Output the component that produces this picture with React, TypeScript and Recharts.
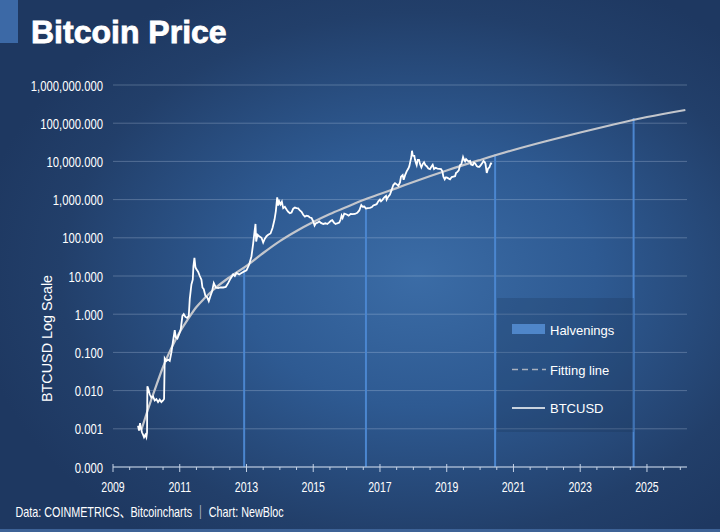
import { LineChart, Line, XAxis, YAxis, CartesianGrid, ReferenceLine } from "recharts";

const FONT = "'Liberation Sans', Arial, Helvetica, sans-serif";

// BTCUSD daily close, thinned: [year, price]
const btcPrice: [number, number][] = [
  [2009.75, 0.0012], [2009.78, 0.0009], [2009.81, 0.0014], [2009.84, 0.001], [2009.87, 0.0008],
  [2009.9, 0.0007], [2009.93, 0.0006], [2009.97, 0.0007], [2010.0, 0.0006], [2010.02, 0.0008],
  [2010.03, 0.013], [2010.06, 0.011], [2010.1, 0.008], [2010.15, 0.0065], [2010.2, 0.007],
  [2010.25, 0.0055], [2010.3, 0.006], [2010.35, 0.005], [2010.4, 0.0058], [2010.45, 0.005],
  [2010.5, 0.0055], [2010.53, 0.006], [2010.55, 0.07], [2010.6, 0.06], [2010.65, 0.065],
  [2010.7, 0.06], [2010.75, 0.1], [2010.8, 0.2], [2010.85, 0.38], [2010.88, 0.25],
  [2010.93, 0.23], [2010.98, 0.3], [2011.03, 0.4], [2011.08, 0.9], [2011.12, 1.0],
  [2011.17, 0.85], [2011.22, 0.8], [2011.27, 0.9], [2011.3, 2.5], [2011.35, 6],
  [2011.39, 8], [2011.41, 18], [2011.44, 30], [2011.47, 17], [2011.5, 15],
  [2011.55, 13], [2011.6, 10], [2011.65, 8], [2011.68, 5], [2011.72, 4.5],
  [2011.77, 3], [2011.82, 2.8], [2011.87, 2.2], [2011.92, 3], [2011.97, 4],
  [2012.02, 6.5], [2012.08, 5], [2012.15, 4.8], [2012.22, 5], [2012.3, 5],
  [2012.38, 5.2], [2012.45, 6.5], [2012.52, 8.5], [2012.6, 11], [2012.65, 10],
  [2012.7, 12], [2012.78, 11], [2012.85, 12], [2012.92, 13], [2013.0, 14],
  [2013.08, 20], [2013.15, 33], [2013.2, 70], [2013.24, 140], [2013.27, 230],
  [2013.29, 80], [2013.33, 120], [2013.38, 110], [2013.45, 100], [2013.5, 75],
  [2013.55, 95], [2013.6, 110], [2013.65, 120], [2013.72, 130], [2013.78, 180],
  [2013.84, 300], [2013.88, 500], [2013.92, 1150], [2013.95, 700], [2013.98, 900],
  [2014.02, 750], [2014.06, 880], [2014.1, 600], [2014.15, 650], [2014.2, 550],
  [2014.25, 480], [2014.3, 440], [2014.35, 460], [2014.4, 580], [2014.45, 620],
  [2014.5, 600], [2014.55, 590], [2014.6, 520], [2014.65, 480], [2014.7, 400],
  [2014.75, 360], [2014.8, 380], [2014.85, 370], [2014.9, 340], [2014.95, 330],
  [2015.0, 270], [2015.04, 210], [2015.08, 240], [2015.13, 250], [2015.18, 270],
  [2015.23, 245], [2015.3, 230], [2015.37, 240], [2015.42, 230], [2015.47, 250],
  [2015.53, 280], [2015.57, 290], [2015.62, 250], [2015.67, 230], [2015.72, 240],
  [2015.78, 250], [2015.82, 300], [2015.85, 380], [2015.88, 330], [2015.93, 430],
  [2015.97, 420], [2016.02, 400], [2016.06, 380], [2016.12, 420], [2016.18, 415],
  [2016.25, 420], [2016.32, 450], [2016.38, 520], [2016.44, 720], [2016.48, 650],
  [2016.53, 660], [2016.58, 580], [2016.63, 600], [2016.7, 610], [2016.76, 640],
  [2016.8, 700], [2016.85, 730], [2016.9, 760], [2016.95, 900], [2017.0, 1000],
  [2017.03, 900], [2017.08, 1000], [2017.13, 1150], [2017.18, 1250], [2017.2, 1000],
  [2017.25, 1200], [2017.3, 1350], [2017.35, 1800], [2017.4, 2400], [2017.45, 2700],
  [2017.5, 2500], [2017.55, 2300], [2017.6, 2800], [2017.63, 4000], [2017.68, 4400],
  [2017.71, 3300], [2017.75, 4300], [2017.8, 5500], [2017.85, 6500], [2017.88, 7500],
  [2017.91, 10000], [2017.94, 13000], [2017.96, 19000], [2017.98, 14500], [2018.0, 14000],
  [2018.03, 14000], [2018.05, 11000], [2018.08, 9000], [2018.1, 8000], [2018.13, 11000],
  [2018.17, 11000], [2018.2, 8500], [2018.24, 7000], [2018.28, 8500], [2018.32, 9500],
  [2018.36, 8000], [2018.4, 7500], [2018.45, 6500], [2018.5, 6300], [2018.55, 7500],
  [2018.58, 8200], [2018.62, 6300], [2018.67, 6800], [2018.72, 6500], [2018.78, 6400],
  [2018.83, 6300], [2018.87, 5500], [2018.9, 4000], [2018.94, 3400], [2018.97, 3800],
  [2019.0, 3800], [2019.05, 3600], [2019.1, 3400], [2019.15, 3900], [2019.2, 4000],
  [2019.25, 4100], [2019.28, 5000], [2019.32, 5300], [2019.36, 5800], [2019.4, 8000],
  [2019.44, 8500], [2019.47, 11000], [2019.49, 13000], [2019.52, 11000], [2019.55, 10000],
  [2019.58, 11500], [2019.62, 10500], [2019.66, 10000], [2019.7, 10300], [2019.73, 8300],
  [2019.78, 8000], [2019.82, 9300], [2019.86, 8600], [2019.9, 7500], [2019.94, 7200],
  [2019.98, 7200], [2020.02, 8000], [2020.06, 9000], [2020.1, 10200], [2020.13, 9800],
  [2020.16, 8800], [2020.2, 5000], [2020.24, 6500], [2020.28, 7000], [2020.32, 8800],
  [2020.36, 8700],
];

// power-law fit
const fittingLine: [number, number][] = [
  [2009.85, 0.00093], [2010.0, 0.0024], [2010.25, 0.0104], [2010.5, 0.0415], [2010.75, 0.13],
  [2011.0, 0.34], [2011.25, 0.75], [2011.5, 1.54], [2011.75, 2.65], [2012.0, 4.3],
  [2012.5, 9.4], [2013.0, 18.3], [2013.5, 40], [2014.0, 82], [2014.5, 151],
  [2015.0, 259], [2015.5, 420], [2016.0, 640], [2016.5, 980], [2017.0, 1400],
  [2017.5, 2000], [2018.0, 2900], [2019.0, 5800], [2020.0, 10900], [2021.0, 19900],
  [2022.0, 34200], [2023.0, 57100], [2024.0, 92500], [2025.0, 145000], [2026.15, 222000],
];

const halvingYears = [2012.93, 2016.58, 2020.45, 2024.6];
const halvingTops = [16, 535, 15500, 137000];

const yTicks = [0.0001, 0.001, 0.01, 0.1, 1, 10, 100, 1000, 10000, 100000, 1000000];
const yearLabels = [2009, 2011, 2013, 2015, 2017, 2019, 2021, 2023, 2025];
const xTicks = Array.from({ length: 35 }, (_, i) => 2009 + i / 2);

const rows = [
  ...btcPrice.map(([t, v]) => ({ t, btc: v })),
  ...fittingLine.map(([t, v]) => ({ t, fit: v })),
].sort((a, b) => a.t - b.t);

const fmt = (v: number) =>
  v.toLocaleString("en-US", { minimumFractionDigits: 3, maximumFractionDigits: 3 });

function XTick({ x, y, payload }: any) {
  const v = payload.value;
  const major = yearLabels.includes(v);
  return (
    <g>
      <line x1={x} x2={x} y1={major ? y - 3 : y} y2={major ? y + 5 : y + 3} stroke="#c6d3e6" />
      {major && (
        <text
          transform={`translate(${x},${y + 25}) scale(0.68,1)`}
          textAnchor="middle"
          fill="#fff"
          fontSize={15.5}
          fontFamily={FONT}
        >
          {v}
        </text>
      )}
    </g>
  );
}

function YTick({ x, y, payload }: any) {
  return (
    <text
      transform={`translate(${x},${y + 5.5}) scale(0.73,1)`}
      textAnchor="end"
      fill="#fff"
      fontSize={15.5}
      fontFamily={FONT}
    >
      {fmt(payload.value)}
    </text>
  );
}

export default function App() {
  return (
    <div
      style={{
        position: "absolute",
        left: 0,
        top: 0,
        width: 720,
        height: 532,
        overflow: "hidden",
        background:
          "radial-gradient(ellipse 62% 62% at 58% 52%, #3b6ca6 0%, #2e5a92 40%, #223f6a 80%, #1e3861 100%)",
        borderBottom: "3px solid #3d6296",
        boxSizing: "border-box",
      }}
    >
      <LineChart
        width={720}
        height={532}
        data={rows}
        margin={{ top: 85, right: 33, bottom: 35, left: 13 }}
        style={{ position: "absolute", left: 0, top: 0 }}
      >
        <CartesianGrid vertical={false} stroke="rgba(220,232,250,0.26)" />
        <XAxis
          type="number"
          dataKey="t"
          domain={[2009, 2026.2]}
          ticks={xTicks}
          interval={0}
          allowDataOverflow
          height={30}
          tickSize={0}
          tickMargin={0}
          tickLine={false}
          axisLine={{ stroke: "#c6d3e6", strokeWidth: 1 }}
          tick={(p: any) => <XTick {...p} />}
        />
        <YAxis
          type="number"
          scale="log"
          domain={[0.0001, 1000000]}
          ticks={yTicks}
          interval={0}
          allowDataOverflow
          width={100}
          tickSize={0}
          tickMargin={10}
          tickLine={false}
          axisLine={false}
          tick={(p: any) => <YTick {...p} />}
        />
        {halvingYears.map((t, i) => (
          <ReferenceLine
            key={t}
            segment={[
              { x: t, y: 0.0001 },
              { x: t, y: halvingTops[i] },
            ]}
            stroke="#4b86cf"
            strokeWidth={2}
          />
        ))}
        <Line
          type="monotone"
          dataKey="fit"
          stroke="#c3c6cc"
          strokeWidth={2.2}
          dot={false}
          connectNulls
          isAnimationActive={false}
        />
        <Line
          type="linear"
          dataKey="btc"
          stroke="#ffffff"
          strokeWidth={1.8}
          dot={false}
          connectNulls
          isAnimationActive={false}
        />
      </LineChart>

      <svg
        width={720}
        height={532}
        style={{ position: "absolute", left: 0, top: 0, pointerEvents: "none" }}
        fontFamily={FONT}
      >
        <rect x={0} y={0} width={18} height={43} fill="#3c69a6" />
        <text
          x={31}
          y={43}
          fontSize={32}
          fontWeight="bold"
          fill="#fff"
          stroke="#fff"
          strokeWidth={0.8}
        >
          Bitcoin Price
        </text>

        <text
          transform="translate(51.5,338.5) rotate(-90)"
          textAnchor="middle"
          fontSize={14.4}
          fill="#fff"
        >
          BTCUSD Log Scale
        </text>

        <rect x={497} y={298} width={137} height={134} fill="rgba(22,44,78,0.22)" />
        <rect x={512} y={324} width={33} height={10} fill="#4f86c9" />
        <text x={550} y={334.5} fontSize={13} fill="#fff">
          Halvenings
        </text>
        <line x1={512} x2={546} y1={369.5} y2={369.5} stroke="#a9b1be" strokeWidth={1.5} strokeDasharray="6 4" />
        <text x={550} y={374.5} fontSize={13} fill="#fff">
          Fitting line
        </text>
        <line x1={512} x2={545} y1={408} y2={408} stroke="#fff" strokeWidth={1.5} />
        <text x={550} y={413} fontSize={13} fill="#fff">
          BTCUSD
        </text>

        <text
          transform="translate(15.5,517) scale(0.77,1)"
          fontSize={14}
          fill="#fff"
          fontFamily={`${FONT}, 'Noto Sans CJK JP'`}
        >
          Data: COINMETRICS、Bitcoincharts ｜ Chart: NewBloc
        </text>
      </svg>
    </div>
  );
}
